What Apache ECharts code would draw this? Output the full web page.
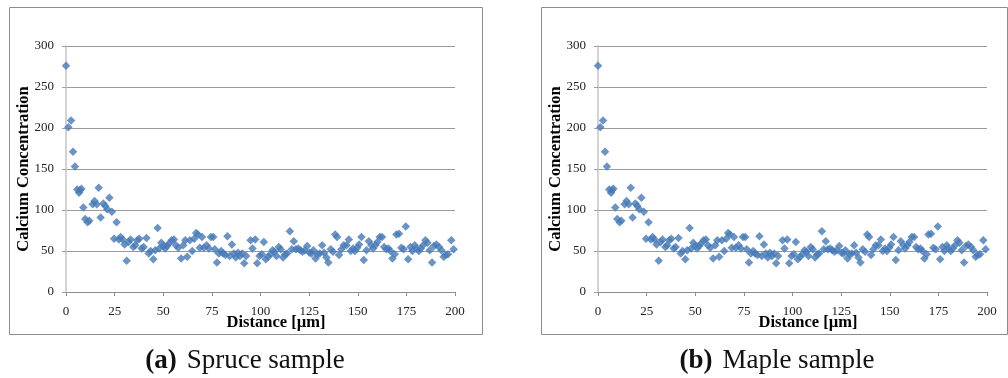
<!DOCTYPE html>
<html>
<head>
<meta charset="utf-8">
<script src="https://cdn.jsdelivr.net/npm/echarts@6/dist/echarts.min.js"></script>
<style>
html,body{margin:0;padding:0;background:#fff;}
#chart{width:1008px;height:378px;}
</style>
</head>
<body>
<div id="chart"></div>
<script>
// Distance [µm]
const distance = [
0,1.2,2.6,3.6,4.6,5.8,6.7,7.2,7.9,8.9,
9.9,11.1,12,13.7,14.7,15.8,16.8,17.8,19.2,20.2,
21.2,22.3,23.6,24.7,26,27.2,28.1,29.1,30.1,31.2,
32.2,33.2,34.6,35.6,36.6,37.7,38.9,39.9,41.4,42.5,
43.5,44.9,45.9,47.1,47.9,49,50,51,52,53,
54.3,55.5,56.5,57.7,59.2,60.3,61.3,62.3,63.7,64.9,
65.9,66.9,67.8,68.8,69.9,70.9,72.3,73.5,74.5,75.7,
76.5,77.6,78.6,79.8,80.8,82,83,84.2,85.3,86.3,
87.3,88.4,89.4,90.6,91.6,92.6,94.9,95.9,97.3,98.3,
99.5,100.7,101.7,102.7,103.9,105.1,106.2,107.2,108.2,109.4,
110.4,111.6,112.7,113.7,115.1,116.1,117.1,118.2,119.4,120.5,
121.6,122.8,124,125.2,126.2,127.2,128.3,129.3,130.5,131.7,
132.7,133.9,134.9,136.1,137.3,138.4,139.4,140.4,141.6,142.8,
144.2,145.4,146.4,147.6,148.6,149.7,150.7,151.9,153.1,154.5,
155.7,157,157.9,159.1,160.1,161.3,162.5,163.6,164.7,165.8,
166.8,167.8,169,169.9,171.2,172.4,173.6,174.7,175.9,177.1,
178.1,179.3,180.1,181.4,182.4,183.6,184.8,185.8,187,188.2,
189.2,190.4,191.8,193,194.2,195.2,196.4,198.1,199.3
];
// Calcium concentration
const calcium = [
276,201,209,171,153,125,121,124,126,103,
89,85,87,107,111,107,127,91,108,105,
101,115,98,65,85,64,67,64,58,38,
61,64,55,57,63,65,53,55,66,47,
50,40,51,78,53,60,56,53,56,59,
63,64,57,54,41,57,63,43,63,50,
65,72,70,54,67,54,57,53,67,67,
52,36,47,50,47,45,68,44,58,47,
42,48,44,47,35,44,63,53,64,35,
44,46,61,40,43,46,51,49,44,55,
52,42,46,47,74,52,62,52,53,51,
49,51,56,48,47,51,41,46,47,57,
48,42,36,52,49,70,67,45,52,57,
57,64,50,53,50,54,58,67,39,51,
62,57,53,57,61,67,67,55,52,53,
50,41,46,70,71,54,52,80,40,55,
50,57,53,50,53,57,63,60,51,36,
56,58,55,51,43,45,46,63,52
];
const xTicks = {min: 0, max: 200, interval: 25};
const yTicks = {min: 0, max: 300, interval: 50};
const panelLabels = ['(a)', '(b)'];
const panelNames = ['Spruce sample', 'Maple sample'];
const xTitle = 'Distance [µm]';
const yTitle = 'Calcium Concentration';

const points = distance.map((d, i) => [d, calcium[i]]);

const serif = '"Liberation Serif", "Times New Roman", serif';
const gridDefs = [
  {left: 66, top: 46, width: 389, height: 246},
  {left: 598, top: 46, width: 389, height: 246}
];
const frames = [
  {x: 9.5, y: 7.5, w: 473, h: 327},
  {x: 541.5, y: 7.5, w: 466, h: 327}
];
const captionX = [245, 777];

const xAxes = gridDefs.map((g, i) => ({
  type: 'value', gridIndex: i,
  min: xTicks.min, max: xTicks.max, interval: xTicks.interval,
  name: xTitle, nameLocation: 'middle', nameGap: 22, nameMoveOverlap: false,
  nameTextStyle: {fontFamily: serif, fontWeight: 'bold', fontSize: 16.5, color: '#000', padding: [0, 0, 0, 31]},
  axisLine: {show: true, onZero: false, lineStyle: {color: '#8c8c8c', width: 1}},
  axisTick: {show: true, length: 4, lineStyle: {color: '#8c8c8c'}},
  axisLabel: {fontFamily: serif, fontSize: 13, color: '#222', margin: 13},
  splitLine: {show: false}
}));
const yAxes = gridDefs.map((g, i) => ({
  type: 'value', gridIndex: i,
  min: yTicks.min, max: yTicks.max, interval: yTicks.interval,
  name: yTitle, nameLocation: 'middle', nameGap: 34, nameMoveOverlap: false,
  nameTextStyle: {fontFamily: serif, fontWeight: 'bold', fontSize: 16.5, color: '#000'},
  axisLine: {show: true, lineStyle: {color: '#c4c4c4', width: 1.5}},
  axisTick: {show: true, length: 4, lineStyle: {color: '#a0a0a0'}},
  axisLabel: {fontFamily: serif, fontSize: 13, color: '#222', margin: 12},
  splitLine: {show: true, lineStyle: {color: '#9a9a9a', width: 1}}
}));

const series = gridDefs.map((g, i) => ({
  type: 'scatter', xAxisIndex: i, yAxisIndex: i,
  data: points, symbol: 'diamond', symbolSize: 8.5,
  itemStyle: {color: '#4679b8'}, silent: true
}));

const graphic = [];
frames.forEach(f => graphic.push({
  type: 'rect', shape: {x: f.x, y: f.y, width: f.w, height: f.h},
  style: {fill: 'none', stroke: '#8c8c8c', lineWidth: 1}, silent: true
}));
captionX.forEach((cx, i) => graphic.push({
  type: 'text', x: cx, y: 361,
  style: {
    text: '{b|' + panelLabels[i] + '}   {n|' + panelNames[i] + '}',
    align: 'center', verticalAlign: 'middle',
    rich: {
      b: {fontFamily: serif, fontWeight: 'bold', fontSize: 27, fill: '#111'},
      n: {fontFamily: serif, fontSize: 27, fill: '#111'}
    }
  }
}));

const chart = echarts.init(document.getElementById('chart'), null, {renderer: 'canvas'});
chart.setOption({
  animation: false,
  backgroundColor: '#fff',
  grid: gridDefs,
  xAxis: xAxes,
  yAxis: yAxes,
  series: series,
  graphic: graphic
});
</script>
</body>
</html>
